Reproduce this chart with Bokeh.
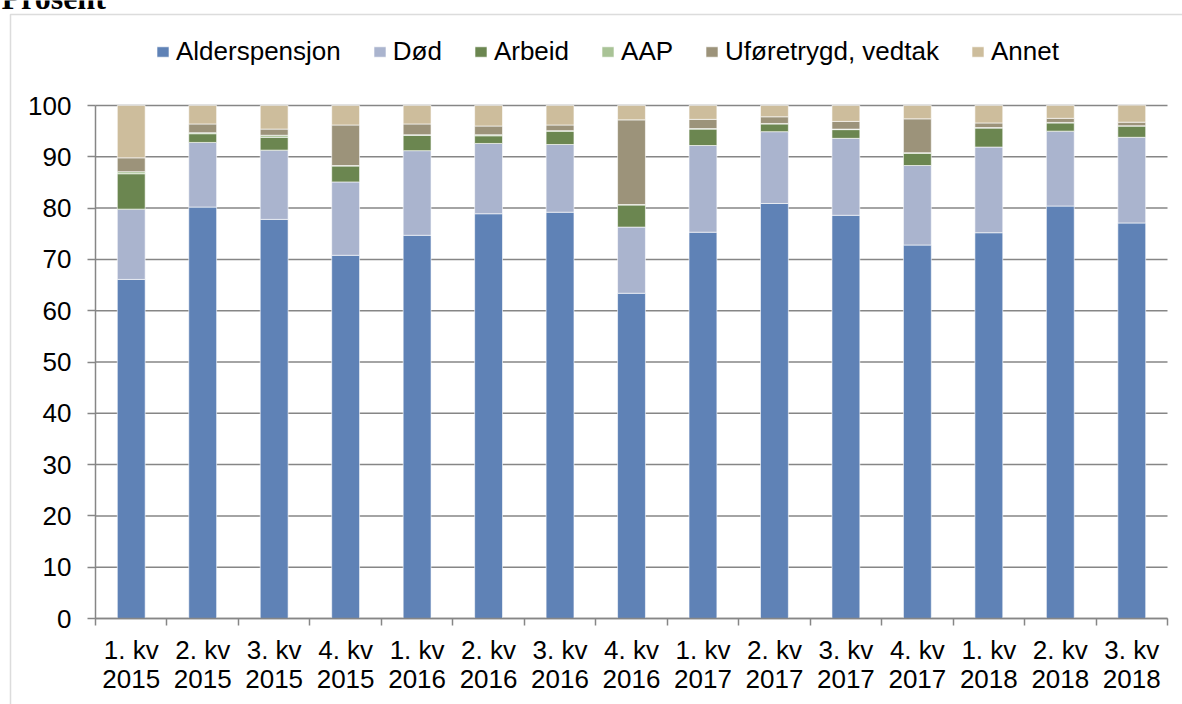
from bokeh.plotting import figure
from bokeh.models import ColumnDataSource, Range1d, FixedTicker, Label, BoxAnnotation
from bokeh.embed import file_html
from bokeh.resources import INLINE

# ---- data ----
quarters = ["1. kv\n2015", "2. kv\n2015", "3. kv\n2015", "4. kv\n2015",
            "1. kv\n2016", "2. kv\n2016", "3. kv\n2016", "4. kv\n2016",
            "1. kv\n2017", "2. kv\n2017", "3. kv\n2017", "4. kv\n2017",
            "1. kv\n2018", "2. kv\n2018", "3. kv\n2018"]
series = ["Alderspensjon", "Død", "Arbeid", "AAP", "Uføretrygd, vedtak", "Annet"]
alderspensjon = [66.1, 80.2, 77.8, 70.8, 74.7, 78.9, 79.2, 63.4, 75.3, 80.9, 78.6, 72.8, 75.2, 80.4, 77.1]
dod =           [13.7, 12.6, 13.5, 14.3, 16.5, 13.7, 13.2, 12.9, 16.9, 14.0, 15.0, 15.5, 16.7, 14.6, 16.7]
arbeid =        [6.9, 1.7, 2.5, 3.1, 3.0, 1.5, 2.6, 4.3, 3.2, 1.5, 1.7, 2.4, 3.7, 1.6, 2.2]
aap =           [0.4, 0.2, 0.4, 0.1, 0.1, 0.2, 0.1, 0.1, 0.1, 0.1, 0.1, 0.1, 0.1, 0.1, 0.05]
uforetrygd =    [2.7, 1.7, 1.2, 7.9, 2.1, 1.7, 1.1, 16.5, 1.8, 1.3, 1.5, 6.6, 0.9, 0.8, 0.7]
annet =         [10.2, 3.6, 4.6, 3.8, 3.6, 4.0, 3.8, 2.8, 2.7, 2.2, 3.1, 2.6, 3.4, 2.5, 3.3]
y_ticks = [0, 10, 20, 30, 40, 50, 60, 70, 80, 90, 100]
colors = ["#5F82B6", "#AAB4CE", "#6B8650", "#A9C396", "#9C937A", "#CDBD9C"]

n = len(quarters)
xpos = [i + 0.5 for i in range(n)]
keys = ["alder", "dod", "arbeid", "aap", "ufore", "annet"]
source = ColumnDataSource(dict(x=xpos, alder=alderspensjon, dod=dod, arbeid=arbeid,
                               aap=aap, ufore=uforetrygd, annet=annet))

FONT = "Liberation Sans"
GRAY = "#868686"
FS = "26px"

# ---- layout: the frame covers the whole canvas; axes are pinned inside it ----
W, H = 1182, 704
PL, PR, PT, PB = 95, 1167, 105, 618      # plot-area edges in pixels
ymax = y_ticks[-1]
xs = (PR - PL) / n                       # px per category
ys = (PB - PT) / ymax                    # px per unit
x_range = Range1d(-PL / xs, (W - PL) / xs)
y_range = Range1d(-(H - PB) / ys, PB / ys)

p = figure(width=W, height=H, x_range=x_range, y_range=y_range,
           output_backend="svg", toolbar_location=None,
           min_border_left=0, min_border_right=0, min_border_top=0, min_border_bottom=0,
           background_fill_color="white", border_fill_color="white", outline_line_color=None)
p.xgrid.visible = False
p.ygrid.visible = False

# horizontal gridlines (behind the bars)
p.segment(x0=0, x1=n, y0=y_ticks, y1=y_ticks, line_color=GRAY, line_width=1.5)

p.vbar_stack(keys, x="x", width=0.39, color=colors, line_color="white", line_width=1,
             line_alpha=0.6, source=source, legend_label=series)

# y axis
yax = p.yaxis[0]
yax.fixed_location = 0
yax.bounds = (0, ymax)
yax.ticker = FixedTicker(ticks=y_ticks)
yax.axis_line_color = GRAY
yax.axis_line_width = 1.5
yax.major_tick_line_color = GRAY
yax.major_tick_line_width = 1.5
yax.major_tick_out = 8
yax.major_tick_in = 0
yax.minor_tick_line_color = None
yax.major_label_standoff = 16
yax.major_label_text_font = FONT
yax.major_label_text_font_size = FS
yax.major_label_text_color = "black"

# x axis
xax = p.xaxis[0]
xax.fixed_location = 0
xax.bounds = (0, n)
xax.ticker = FixedTicker(ticks=xpos, minor_ticks=list(range(n + 1)))
xax.major_label_overrides = {x: lab for x, lab in zip(xpos, quarters)}
xax.axis_line_color = GRAY
xax.axis_line_width = 1.5
xax.major_tick_line_color = None
xax.major_tick_out = 0
xax.major_tick_in = 0
xax.minor_tick_line_color = GRAY
xax.minor_tick_line_width = 1.5
xax.minor_tick_out = 7
xax.minor_tick_in = 0
xax.major_label_standoff = 9
xax.major_label_text_font = FONT
xax.major_label_text_font_size = FS
xax.major_label_text_color = "black"
xax.major_label_text_line_height = 0.97

# legend
leg = p.legend[0]
leg.orientation = "horizontal"
leg.location = (155, H - 38 - 29)
leg.glyph_width = 15
leg.glyph_height = 13
leg.label_standoff = 6
leg.spacing = 31
leg.padding = 0
leg.margin = 0
leg.border_line_color = None
leg.background_fill_alpha = 0
leg.label_text_font = FONT
leg.label_text_font_size = FS
leg.label_text_color = "black"

# outer chart frame (top + left edge visible)
frame_box = BoxAnnotation(left=10, right=W + 200, top=H - 14, bottom=-200,
                          left_units="screen", right_units="screen",
                          top_units="screen", bottom_units="screen",
                          fill_alpha=0, line_color="#8c8c8c", line_width=1.5)
p.add_layout(frame_box)

# title, cropped at the top edge as in the reference
title = Label(x=1, y=H + 3, x_units="screen", y_units="screen", text="Prosent",
              text_font="Liberation Serif", text_font_style="bold", text_font_size="32px",
              text_baseline="alphabetic", text_color="black")
p.add_layout(title)

open("out.html", "w").write(file_html(p, INLINE))
